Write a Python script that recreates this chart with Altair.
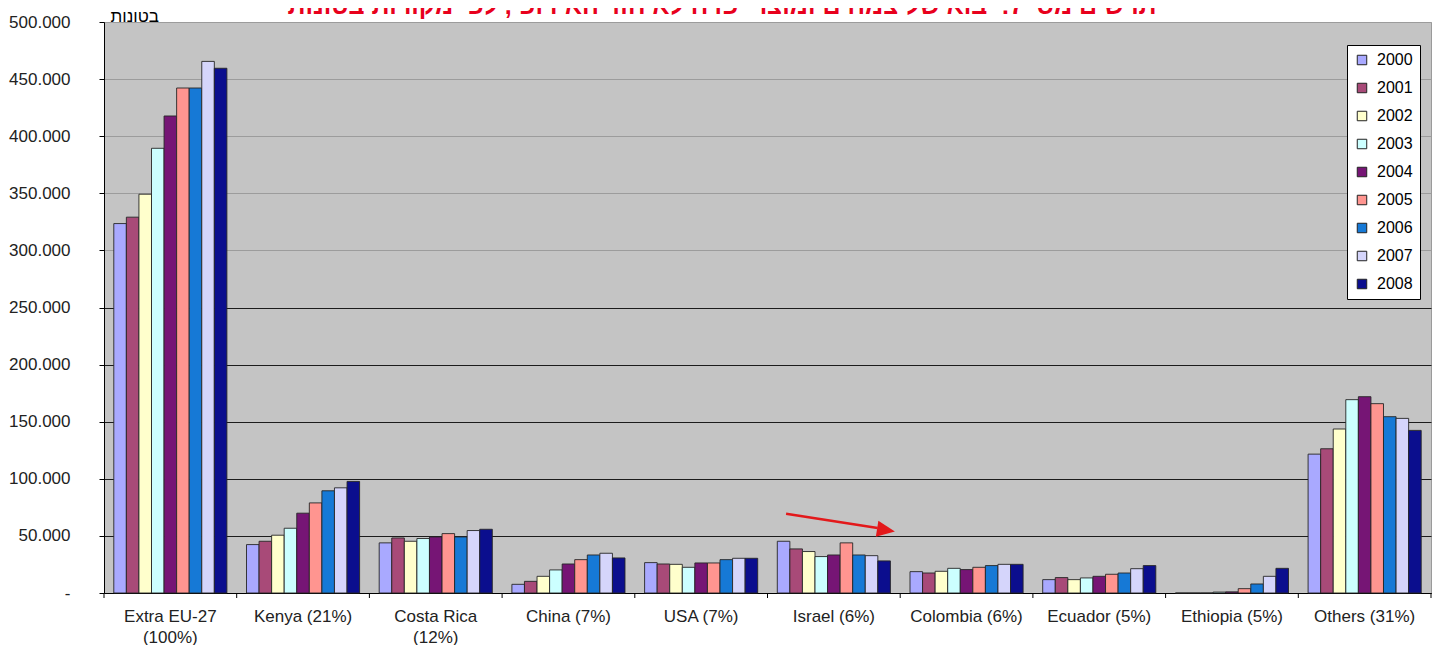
import altair as alt
import pandas as pd

categories = ["Extra EU-27|(100%)", "Kenya (21%)", "Costa Rica|(12%)", "China (7%)", "USA (7%)",
              "Israel (6%)", "Colombia (6%)", "Ecuador (5%)", "Ethiopia (5%)", "Others (31%)"]
years = ["2000", "2001", "2002", "2003", "2004", "2005", "2006", "2007", "2008"]
colors = ["#a9a9ff", "#a84a78", "#ffffcc", "#ccffff", "#761575", "#ff9590", "#1679d6", "#d5d5fb", "#0b0e8e"]

v2000 = [323500, 42400, 43900, 7600, 26600, 45300, 18700, 11700, 0, 121600]
v2001 = [329100, 45300, 48200, 10200, 25400, 38600, 17500, 13500, 0, 126300]
v2002 = [349200, 50600, 45300, 14600, 25100, 36300, 19000, 11700, 0, 143600]
v2003 = [389400, 56700, 47700, 20200, 22500, 31900, 21600, 13200, 800, 169300]
v2004 = [417700, 69900, 49100, 25400, 26300, 33300, 20500, 14600, 1000, 171900]
v2005 = [442200, 78900, 52000, 29200, 26300, 43900, 22500, 16400, 3800, 165800]
v2006 = [442200, 89500, 49100, 33300, 29200, 33300, 24000, 17500, 7900, 154400]
v2007 = [465500, 92100, 54700, 34800, 30400, 32700, 25100, 21300, 14600, 152900]
v2008 = [459500, 97700, 55800, 30700, 30400, 28100, 25100, 24000, 21600, 142400]
series = [v2000, v2001, v2002, v2003, v2004, v2005, v2006, v2007, v2008]

title_text = "תרשים מס' 7: יבוא של צמחים ומוצרי פרח לאיחוד האירופי, לפי מקורות בטונות"
unit_text = "בטונות"

# arrow annotation, x in category units (0..10), y in tonnes
arrow_x = [5.14, 5.83]
arrow_y = [69400, 56900]
head_x = [5.96]
head_y = [53900]

W, H = 1327, 571

rows = []
for yr, vals in zip(years, series):
    for c, v in zip(categories, vals):
        rows.append({"country": c, "year": yr, "value": v})
df = pd.DataFrame(rows)

xscale = alt.Scale(domain=categories, paddingInner=0, paddingOuter=0)
yscale = alt.Scale(domain=[0, 500000], nice=False, zero=True)

xaxis = alt.Axis(
    title=None, ticks=False, tickSize=0, labelPadding=15, labelFontSize=17, labelColor="#222",
    labelExpr="split(datum.label, '|')", labelLineHeight=21, labelBaseline="top",
    domainColor="black", domainWidth=1, labelAngle=0, grid=False,
)
yaxis = alt.Axis(
    values=list(range(0, 500001, 50000)),
    labelExpr="datum.value == 0 ? '-' : replace(format(datum.value, ','), ',', '.')",
    labelFontSize=17, labelColor="#222", labelPadding=29, tickSize=5, tickColor="black",
    domainColor="black", domainWidth=1,
    grid=True, gridWidth=1,
    gridColor={"condition": {"test": "datum.value >= 300000", "value": "#9c9c9c"}, "value": "#1c1c1c"},
    title=unit_text, titleAngle=0, titleX=6, titleY=-1, titleAlign="left", titleBaseline="alphabetic",
    titleFontSize=17, titleFontWeight="normal", titleColor="black",
)
legend = alt.Legend(
    title=None, orient="none", legendX=1243, legendY=23, fillColor="white", strokeColor="black",
    padding=7, rowPadding=12, labelFontSize=16, labelColor="black", symbolType="square",
    symbolSize=90, symbolStrokeColor="#222", symbolStrokeWidth=1, labelOffset=7, cornerRadius=0,
)

bars = alt.Chart(df).mark_bar(stroke="#262626", strokeWidth=0.9).encode(
    x=alt.X("country:N", sort=categories, scale=xscale, axis=xaxis),
    xOffset=alt.XOffset("year:N", sort=years, scale=alt.Scale(paddingInner=0, paddingOuter=0.78)),
    y=alt.Y("value:Q", scale=yscale, axis=yaxis),
    color=alt.Color("year:N", sort=years, scale=alt.Scale(domain=years, range=colors), legend=legend),
)

tick_df = pd.DataFrame({"country": categories})
ticks = alt.Chart(tick_df).mark_rule(color="black", strokeWidth=1).encode(
    x=alt.X("country:N", sort=categories, scale=xscale, axis=xaxis, bandPosition=0),
    y=alt.value(H), y2=alt.value(H + 5),
)
end_tick = alt.Chart(pd.DataFrame({"country": categories[-1:]})).mark_rule(color="black", strokeWidth=1).encode(
    x=alt.X("country:N", sort=categories, scale=xscale, axis=xaxis, bandPosition=1),
    y=alt.value(H), y2=alt.value(H + 5),
)

main = alt.layer(bars, ticks, end_tick)

ax_scale = alt.Scale(domain=[0, 10], nice=False, zero=False)
arrow_df = pd.DataFrame({"x": [arrow_x[0]], "x2": [arrow_x[1]], "y": [arrow_y[0]], "y2": [arrow_y[1]]})
arrow_line = alt.Chart(arrow_df).mark_rule(color="#e3191b", strokeWidth=2.5).encode(
    x=alt.X("x:Q", scale=ax_scale, axis=None), x2="x2:Q",
    y=alt.Y("y:Q", scale=yscale, axis=None), y2="y2:Q",
)
head_df = pd.DataFrame({"x": head_x, "y": head_y})
arrow_head = alt.Chart(head_df).mark_point(
    shape="M0,0L-1,-0.45L-1,0.45Z", filled=True, color="#e3191b", opacity=1, size=1296, angle=9
).encode(
    x=alt.X("x:Q", scale=ax_scale, axis=None),
    y=alt.Y("y:Q", scale=yscale, axis=None),
)

title = alt.Chart(pd.DataFrame({"t": [title_text]})).mark_text(
    fontSize=25, fontWeight="bold", color="#e8001c", align="center", baseline="alphabetic",
    font="Liberation Sans",
).encode(text="t:N", x=alt.value(618), y=alt.value(-8))

chart = alt.layer(main, arrow_line, arrow_head, title).resolve_scale(
    x="independent", y="independent"
).properties(
    width=W, height=H,
    padding={"left": 96, "top": 14, "right": 1, "bottom": 52},
    autosize=alt.AutoSizeParams(type="none"),
).configure(font="Liberation Sans").configure_view(fill="#c4c4c4", stroke="#9a9a9a")

chart.save("out.html", embed_options={"renderer": "svg", "actions": False})
